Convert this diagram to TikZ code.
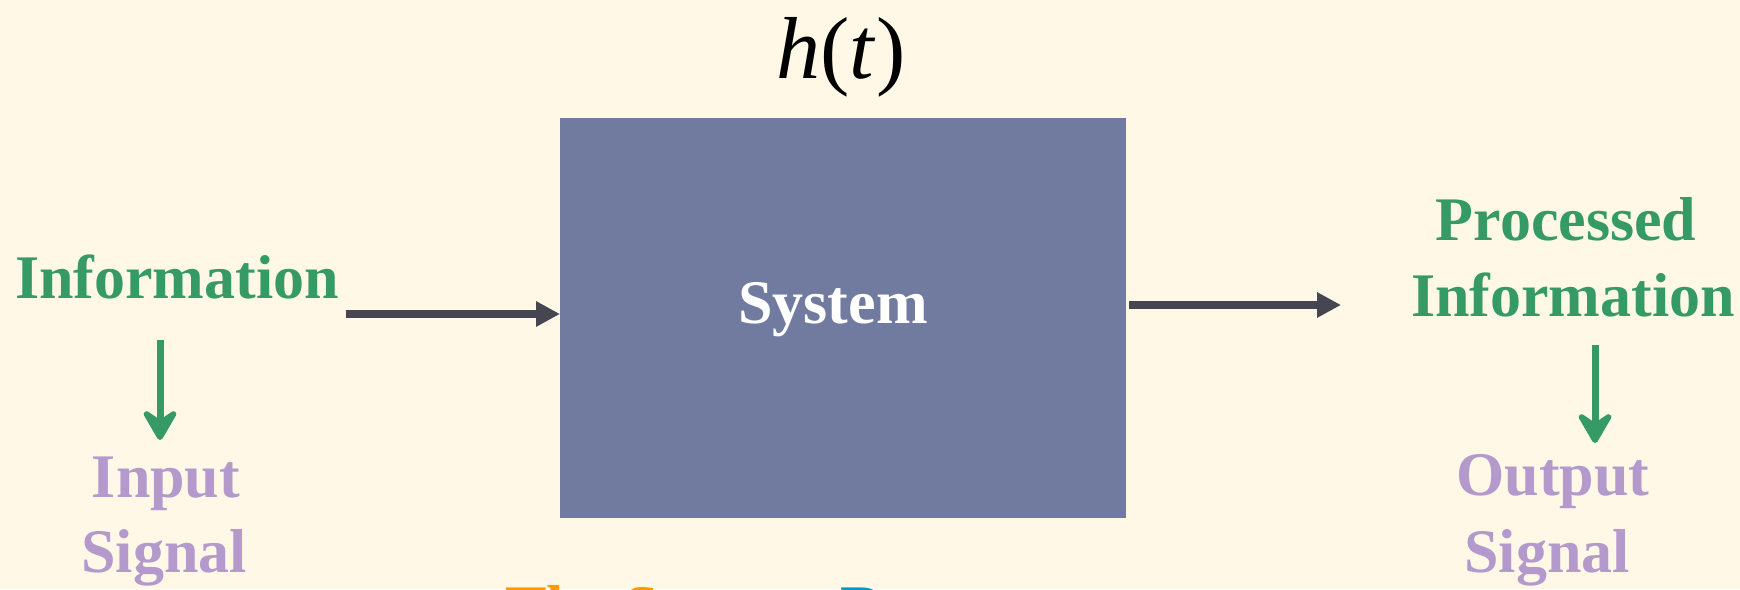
\documentclass[tikz,border=0pt]{standalone}
\usepackage{fontspec}
\setmainfont{Liberation Serif}
\usetikzlibrary{arrows.meta}
\definecolor{bgcream}{RGB}{255,248,230}
\definecolor{boxblue}{RGB}{113,123,160}
\definecolor{darkarrow}{RGB}{70,69,82}
\definecolor{infogreen}{RGB}{53,154,102}
\definecolor{sigpurple}{RGB}{179,153,204}
\definecolor{captorange}{RGB}{255,153,0}
\definecolor{captblue}{RGB}{0,153,204}
\tikzset{
  lbl/.style={inner sep=0pt, anchor=base, font=\fontsize{62}{70}\selectfont\bfseries},
  lblw/.style={lbl, anchor=base west},
  darr/.style={draw=darkarrow, line width=8pt, -{Triangle[length=24pt,width=24pt]}},
  garr/.style={draw=infogreen, line width=7pt, -{Stealth[length=38pt,width=44pt,inset=15pt,round]}},
}
\begin{document}
\begin{tikzpicture}[x=1pt,y=-1pt]
\fill[bgcream] (0,0) rectangle (1740,589);
\useasboundingbox (0,0) rectangle (1740,589);
% system box
\node (sys) [fill=boxblue, minimum width=566pt, minimum height=400pt, inner sep=0pt, anchor=north west] at (560,118) {};
\node (systext) [lbl, text=white] at (833,323) {System};
\node (ht) [inner sep=0pt, anchor=base, font=\fontsize{88}{96}\selectfont] at (841,78) {\textit{h}(\textit{t})};
% left side
\node (info) [lbl, text=infogreen] at (177,298) {Information};
\node (input) [lbl, text=sigpurple] at (166,497) {Input};
\node (insig) [lbl, text=sigpurple] at (164,572) {Signal};
% right side
\node (proc) [lbl, text=infogreen] at (1566,240) {Processed};
\node (pinfo) [lbl, text=infogreen] at (1573,316) {Information};
\node (output) [lbl, text=sigpurple] at (1553,495) {Output};
\node (outsig) [lbl, text=sigpurple] at (1547,572) {Signal};
% bottom caption (cut off by the lower edge)
\node (bt1) [lblw, text=captorange] at (505,628) {The System};
\node (bt2) [lblw, text=captblue] at (840,628) {Response};
\node (bt3) [lblw, text=captorange] at (1128,626) {to};
% connectors
\coordinate (a1s) at (346,314);
\coordinate (a2s) at (1129,305);
\coordinate (a2e) at (1341,305);
\draw[darr] (a1s) -- (sys.west |- a1s);
\draw[darr] (a2s) -- (a2e);
\coordinate (g1s) at (160,340);
\coordinate (g1e) at (160,440);
\coordinate (g2s) at (1595,345);
\coordinate (g2e) at (1595,443);
\draw[garr] (g1s) -- (g1e);
\draw[garr] (g2s) -- (g2e);
\end{tikzpicture}
\end{document}
